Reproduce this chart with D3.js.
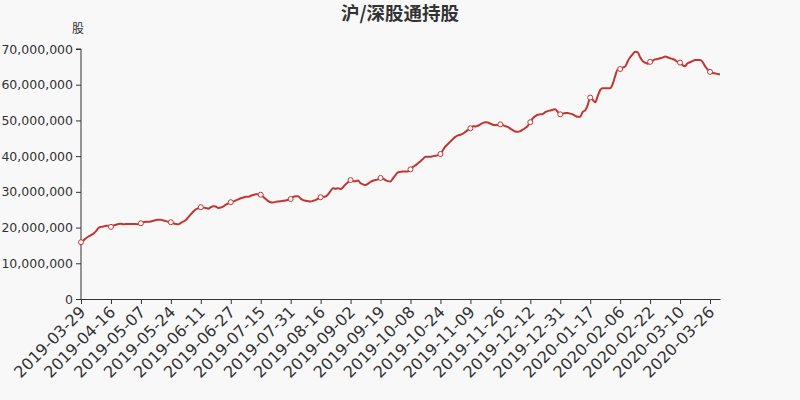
<!DOCTYPE html>
<html>
<head>
<meta charset="utf-8">
<script src="https://cdn.jsdelivr.net/npm/d3@7/dist/d3.min.js"></script>
<style>
  html, body { margin: 0; padding: 0; background: #f8f8f8; }
  svg { display: block; }
</style>
</head>
<body>
<svg id="chart" width="800" height="400"></svg>
<script>
const title = "沪/深股通持股";
const yName = "股";
const unit = 1e6;

const dates = [
"2019-03-29",
"2019-04-01","2019-04-02","2019-04-03","2019-04-04","2019-04-05","2019-04-08","2019-04-09","2019-04-10","2019-04-11","2019-04-12","2019-04-15","2019-04-16",
"2019-04-17","2019-04-18","2019-04-19","2019-04-22","2019-04-23","2019-04-24","2019-04-25","2019-04-26","2019-04-29","2019-04-30","2019-05-06","2019-05-07",
"2019-05-08","2019-05-09","2019-05-10","2019-05-14","2019-05-15","2019-05-16","2019-05-17","2019-05-20","2019-05-21","2019-05-22","2019-05-23","2019-05-24",
"2019-05-27","2019-05-28","2019-05-29","2019-05-30","2019-05-31","2019-06-03","2019-06-04","2019-06-05","2019-06-06","2019-06-07","2019-06-10","2019-06-11",
"2019-06-12","2019-06-13","2019-06-14","2019-06-17","2019-06-18","2019-06-19","2019-06-20","2019-06-21","2019-06-24","2019-06-25","2019-06-26","2019-06-27",
"2019-06-28","2019-07-01","2019-07-02","2019-07-03","2019-07-04","2019-07-05","2019-07-08","2019-07-09","2019-07-10","2019-07-11","2019-07-12","2019-07-15",
"2019-07-16","2019-07-17","2019-07-18","2019-07-19","2019-07-22","2019-07-23","2019-07-24","2019-07-25","2019-07-26","2019-07-29","2019-07-30","2019-07-31",
"2019-08-01","2019-08-02","2019-08-05","2019-08-06","2019-08-07","2019-08-08","2019-08-09","2019-08-12","2019-08-13","2019-08-14","2019-08-15","2019-08-16",
"2019-08-19","2019-08-20","2019-08-21","2019-08-22","2019-08-23","2019-08-26","2019-08-27","2019-08-28","2019-08-29","2019-08-30","2019-08-31","2019-09-02",
"2019-09-03","2019-09-04","2019-09-05","2019-09-06","2019-09-09","2019-09-10","2019-09-11","2019-09-12","2019-09-16","2019-09-17","2019-09-18","2019-09-19",
"2019-09-20","2019-09-23","2019-09-24","2019-09-25","2019-09-26","2019-09-27","2019-09-30","2019-10-02","2019-10-03","2019-10-04","2019-10-07","2019-10-08",
"2019-10-09","2019-10-10","2019-10-11","2019-10-14","2019-10-15","2019-10-16","2019-10-17","2019-10-18","2019-10-21","2019-10-22","2019-10-23","2019-10-24",
"2019-10-25","2019-10-28","2019-10-29","2019-10-30","2019-10-31","2019-11-01","2019-11-04","2019-11-05","2019-11-06","2019-11-07","2019-11-08","2019-11-09",
"2019-11-11","2019-11-12","2019-11-13","2019-11-14","2019-11-15","2019-11-18","2019-11-19","2019-11-20","2019-11-21","2019-11-22","2019-11-25","2019-11-26",
"2019-11-27","2019-11-28","2019-11-29","2019-12-02","2019-12-03","2019-12-04","2019-12-05","2019-12-06","2019-12-09","2019-12-10","2019-12-11","2019-12-12",
"2019-12-13","2019-12-16","2019-12-17","2019-12-18","2019-12-19","2019-12-20","2019-12-23","2019-12-24","2019-12-26","2019-12-27","2019-12-30","2019-12-31",
"2020-01-02","2020-01-03","2020-01-06","2020-01-07","2020-01-08","2020-01-09","2020-01-10","2020-01-13","2020-01-14","2020-01-15","2020-01-16","2020-01-17",
"2020-01-20","2020-01-21","2020-01-22","2020-01-23","2020-01-28","2020-01-29","2020-01-30","2020-01-31","2020-02-03","2020-02-04","2020-02-05","2020-02-06",
"2020-02-07","2020-02-10","2020-02-11","2020-02-12","2020-02-13","2020-02-14","2020-02-17","2020-02-18","2020-02-19","2020-02-20","2020-02-21","2020-02-22",
"2020-02-24","2020-02-25","2020-02-26","2020-02-27","2020-02-28","2020-03-02","2020-03-03","2020-03-04","2020-03-05","2020-03-06","2020-03-09","2020-03-10",
"2020-03-11","2020-03-12","2020-03-13","2020-03-16","2020-03-17","2020-03-18","2020-03-19","2020-03-20","2020-03-23","2020-03-24","2020-03-25","2020-03-26",
"2020-03-27","2020-03-30","2020-03-31","2020-04-01"
];

// holdings, in millions of shares
const holdingsM = [
15.9,16.4,17.0,17.5,17.9,18.3,19.0,19.9,20.2,20.3,20.5,20.5,20.2,
20.6,20.8,21.0,21.1,20.9,21.0,21.0,21.0,21.0,21.0,20.9,21.2,
21.5,21.6,21.6,21.7,21.9,22.1,22.2,22.2,22.0,21.8,21.6,21.5,
21.2,21.0,20.9,21.3,21.7,22.1,22.9,23.7,24.5,25.1,25.4,25.7,
25.6,25.5,25.3,25.7,26.0,25.9,25.5,25.6,25.9,26.4,26.8,27.1,
27.3,27.6,27.9,28.2,28.4,28.6,28.6,28.9,29.1,29.3,29.3,29.2,
28.6,28.0,27.4,27.1,27.0,27.2,27.3,27.4,27.5,27.6,27.8,28.0,
28.6,28.8,28.8,28.1,27.7,27.5,27.4,27.3,27.5,27.7,28.1,28.5,
28.6,28.7,29.3,30.3,31.0,30.9,31.0,30.8,31.3,32.1,32.7,33.3,
33.0,33.0,33.2,32.4,32.1,31.9,32.3,32.8,33.1,33.3,33.5,33.9,
33.7,33.3,33.0,32.9,33.8,34.7,35.5,35.6,35.7,35.7,35.7,36.3,
37.0,37.4,38.0,38.6,39.2,39.8,39.8,39.8,40.0,40.1,40.3,40.6,
41.7,42.7,43.4,44.1,44.8,45.4,45.8,46.0,46.3,46.8,47.3,47.8,
48.4,48.3,48.5,48.9,49.3,49.5,49.4,49.1,48.8,48.7,48.7,48.9,
48.7,48.4,48.2,47.7,47.3,46.9,46.8,47.0,47.4,47.9,48.5,49.5,
50.6,51.2,51.6,51.7,51.8,52.3,52.6,52.8,53.0,53.1,52.4,51.7,
51.9,52.1,52.1,51.9,51.7,51.3,51.0,51.0,52.4,52.8,54.3,56.4,
55.8,55.1,56.8,58.5,59.0,59.0,59.0,59.0,60.2,62.4,64.3,64.4,
64.8,65.1,66.5,67.7,68.5,69.2,69.1,67.7,66.6,66.2,65.9,66.4,
66.7,67.1,67.2,67.4,67.6,67.9,67.7,67.4,67.2,66.9,66.4,66.2,
65.5,65.2,66.0,66.3,66.6,66.9,66.9,66.9,66.4,65.2,64.3,63.6,
63.3,63.2,63.0,62.9
];

const yTicks = [0, 10000000, 20000000, 30000000, 40000000, 50000000, 60000000, 70000000];
const labelEvery = 12;

const data = dates.map((d, i) => ({ date: d, value: holdingsM[i] * unit, i }));

const W = 800, H = 400;
const margin = { left: 81, right: 80, top: 49, bottom: 101 };
const svg = d3.select("#chart");
svg.append("rect").attr("width", W).attr("height", H).attr("fill", "#f8f8f8");

const x = d3.scalePoint().domain(dates).range([margin.left, W - margin.right]);
const y = d3.scaleLinear().domain([0, 70000000]).range([H - margin.bottom, margin.top]);

const axisColor = "#333";
const textColor = "#333";
const lineColor = "#c23531";
const fontFam = "'DejaVu Sans', sans-serif";

// title
svg.append("text")
  .attr("x", 400).attr("y", 20)
  .attr("text-anchor", "middle")
  .attr("font-family", "'Noto Sans CJK SC', sans-serif")
  .attr("font-weight", "bold")
  .attr("font-size", 18.5)
  .attr("fill", textColor)
  .text(title);

// y axis name
svg.append("text")
  .attr("x", margin.left - 3).attr("y", 33)
  .attr("text-anchor", "middle")
  .attr("font-family", "'Noto Sans CJK SC', sans-serif")
  .attr("font-size", 12)
  .attr("fill", textColor)
  .text(yName);

// y axis
const yAxis = d3.axisLeft(y).tickValues(yTicks).tickSize(5).tickPadding(3)
  .tickFormat(d3.format(","));
const gy = svg.append("g").attr("transform", `translate(${margin.left},0)`).call(yAxis);
gy.select(".domain").attr("stroke", axisColor).attr("d", `M-5,${y(70000000)}H0V${y(0)}`);
gy.selectAll(".tick line").attr("stroke", axisColor);
gy.selectAll(".tick text").attr("fill", textColor).attr("font-size", 12.5).attr("font-family", fontFam);

// x axis
const labelDates = dates.filter((d, i) => i % labelEvery === 0);
const xAxis = d3.axisBottom(x).tickValues(labelDates).tickSize(5).tickSizeOuter(0);
const gx = svg.append("g").attr("transform", `translate(0,${H - margin.bottom})`).call(xAxis);
gx.select(".domain").attr("stroke", axisColor);
gx.selectAll(".tick line").attr("stroke", axisColor);
gx.selectAll(".tick text")
  .attr("fill", textColor)
  .attr("font-size", 16)
  .attr("font-family", fontFam)
  .attr("text-anchor", "end")
  .attr("dy", null)
  .attr("y", 0)
  .attr("transform", "translate(5,14) rotate(-45)");

// line
const line = d3.line()
  .x(d => x(d.date))
  .y(d => y(d.value))
  .curve(d3.curveMonotoneX);

svg.append("path")
  .datum(data)
  .attr("fill", "none")
  .attr("stroke", lineColor)
  .attr("stroke-width", 2)
  .attr("stroke-linejoin", "round")
  .attr("d", line);

// symbols at labelled points
svg.selectAll("circle.sym")
  .data(data.filter(d => d.i % labelEvery === 0))
  .join("circle")
  .attr("class", "sym")
  .attr("cx", d => x(d.date))
  .attr("cy", d => y(d.value))
  .attr("r", 2.5)
  .attr("fill", "#fff")
  .attr("stroke", lineColor)
  .attr("stroke-width", 1);
</script>
</body>
</html>
